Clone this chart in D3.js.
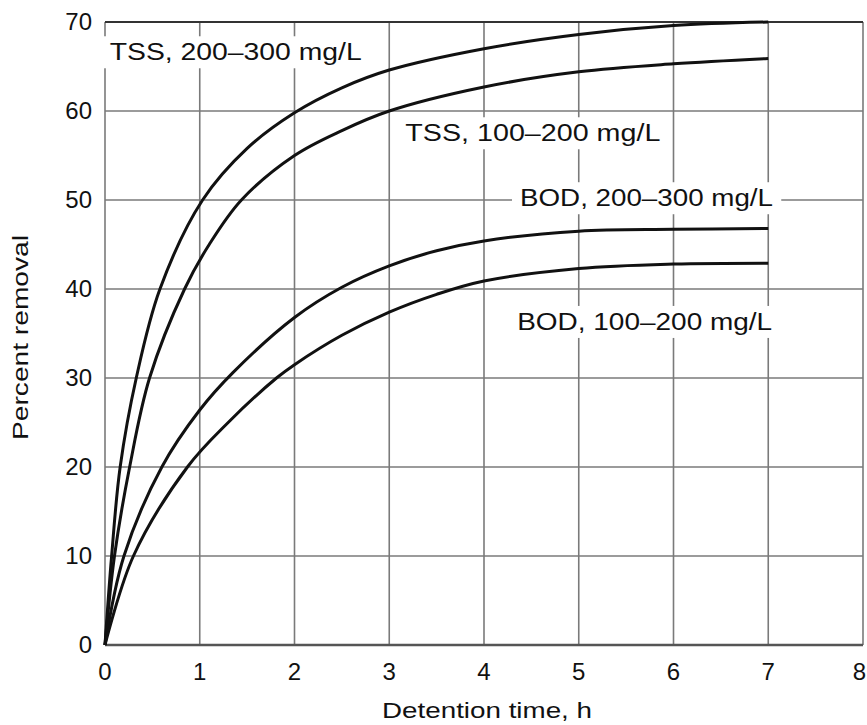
<!DOCTYPE html>
<html lang="en">
<head>
    <meta charset="UTF-8">
    <title>Percent removal vs detention time</title>
    <script src="https://d3js.org/d3.v7.min.js"></script>
    <style>
        body, html {
            margin: 0;
            padding: 0;
            background-color: #fff;
        }
        svg text {
            font-family: 'Liberation Sans', Arial, sans-serif;
            fill: #111;
        }
    </style>
</head>
<body>
    <svg id="chart"></svg>

    <script>
        // detention time (h) and percent removal
        const tss200Time = [0, 0.07, 0.16, 0.33, 0.58, 1.03, 1.5, 2, 2.5, 3, 4, 5, 6, 7];
        const tss200Removal = [0, 10, 20, 30, 40, 50, 55.8, 59.8, 62.6, 64.6, 67, 68.6, 69.6, 70];

        const tss100Time = [0, 0.1, 0.26, 0.47, 0.84, 1.1, 1.44, 2, 2.5, 3, 4, 5, 6, 7];
        const tss100Removal = [0, 10, 20, 30, 40, 45, 50, 55, 57.8, 60, 62.7, 64.4, 65.3, 65.9];

        const bod200Time = [0, 0.2, 0.6, 1, 1.35, 2, 2.5, 3, 3.5, 4, 5, 6, 7];
        const bod200Removal = [0, 10, 20, 26.4, 30.6, 36.8, 40.2, 42.6, 44.3, 45.4, 46.5, 46.7, 46.8];

        const bod100Time = [0, 0.3, 0.87, 1.3, 1.81, 2, 2.5, 3, 3.5, 4, 5, 6, 7];
        const bod100Removal = [0, 10, 20, 25, 30, 31.5, 34.8, 37.4, 39.4, 40.9, 42.3, 42.8, 42.9];

        const xTicks = [0, 1, 2, 3, 4, 5, 6, 7, 8];
        const yTicks = [0, 10, 20, 30, 40, 50, 60, 70];

        const seriesNames = ['TSS, 200\u2013300 mg/L', 'TSS, 100\u2013200 mg/L', 'BOD, 200\u2013300 mg/L', 'BOD, 100\u2013200 mg/L'];
        // where each curve label sits, in chart units (start of text, baseline)
        const labelTime = [0.05, 3.17, 4.38, 4.35];
        const labelRemoval = [65.7, 56.6, 49.3, 35.4];
        const labelWidth = [252, 255, 253, 255];

        const width = 867, height = 725;
        const svg = d3.select('#chart')
            .attr('width', width)
            .attr('height', height);

        const x = d3.scaleLinear().domain([0, 8]).range([105, 863]);
        const y = d3.scaleLinear().domain([0, 70]).range([645, 22]);

        // grid
        svg.append('g').selectAll('line')
            .data(xTicks)
            .join('line')
            .attr('x1', d => x(d)).attr('x2', d => x(d))
            .attr('y1', y(0)).attr('y2', y(70))
            .attr('stroke', '#7a7a7a')
            .attr('stroke-width', 1.6);

        svg.append('g').selectAll('line')
            .data(yTicks)
            .join('line')
            .attr('x1', x(0)).attr('x2', x(8))
            .attr('y1', d => y(d)).attr('y2', d => y(d))
            .attr('stroke', d => d === 70 ? '#333' : '#7a7a7a')
            .attr('stroke-width', d => d === 70 ? 2 : 1.6);

        // bottom axis line a bit heavier
        svg.append('line')
            .attr('x1', x(0)).attr('x2', x(8))
            .attr('y1', y(0)).attr('y2', y(0))
            .attr('stroke', '#555')
            .attr('stroke-width', 2.5);

        // tick labels
        svg.append('g').selectAll('text')
            .data(xTicks)
            .join('text')
            .attr('x', d => d === 8 ? x(d) + 3 : x(d))
            .attr('y', y(0) + 35)
            .attr('text-anchor', d => d === 8 ? 'end' : 'middle')
            .attr('font-size', 24)
            .text(d => d);

        svg.append('g').selectAll('text')
            .data(yTicks)
            .join('text')
            .attr('x', x(0) - 13)
            .attr('y', d => y(d) + 8)
            .attr('text-anchor', 'end')
            .attr('font-size', 24)
            .text(d => d);

        // axis titles
        svg.append('text')
            .attr('x', 382)
            .attr('y', 718)
            .attr('font-size', 22)
            .attr('textLength', 210)
            .attr('lengthAdjust', 'spacingAndGlyphs')
            .text('Detention time, h');

        svg.append('text')
            .attr('transform', 'translate(28,440) rotate(-90)')
            .attr('font-size', 22)
            .attr('textLength', 205)
            .attr('lengthAdjust', 'spacingAndGlyphs')
            .text('Percent removal');

        // curve labels with white backing that breaks the grid
        const labels = svg.append('g');
        seriesNames.forEach((name, i) => {
            const bg = labels.append('rect').attr('fill', '#fff');
            const t = labels.append('text')
                .attr('x', x(labelTime[i]))
                .attr('y', y(labelRemoval[i]))
                .attr('font-size', 23)
                .attr('textLength', labelWidth[i])
                .attr('lengthAdjust', 'spacingAndGlyphs')
                .text(name);
            const b = t.node().getBBox();
            bg.attr('x', b.x - 8).attr('y', b.y - 3)
                .attr('width', b.width + 16).attr('height', b.height + 6);
        });

        // curves
        const series = [
            [tss200Time, tss200Removal],
            [tss100Time, tss100Removal],
            [bod200Time, bod200Removal],
            [bod100Time, bod100Removal]
        ];
        const line = d3.line()
            .x(d => x(d[0]))
            .y(d => y(d[1]))
            .curve(d3.curveCatmullRom.alpha(0.5));

        svg.append('g').selectAll('path')
            .data(series)
            .join('path')
            .attr('d', s => line(d3.zip(s[0], s[1])))
            .attr('fill', 'none')
            .attr('stroke', '#111')
            .attr('stroke-width', 3);
    </script>
</body>
</html>
